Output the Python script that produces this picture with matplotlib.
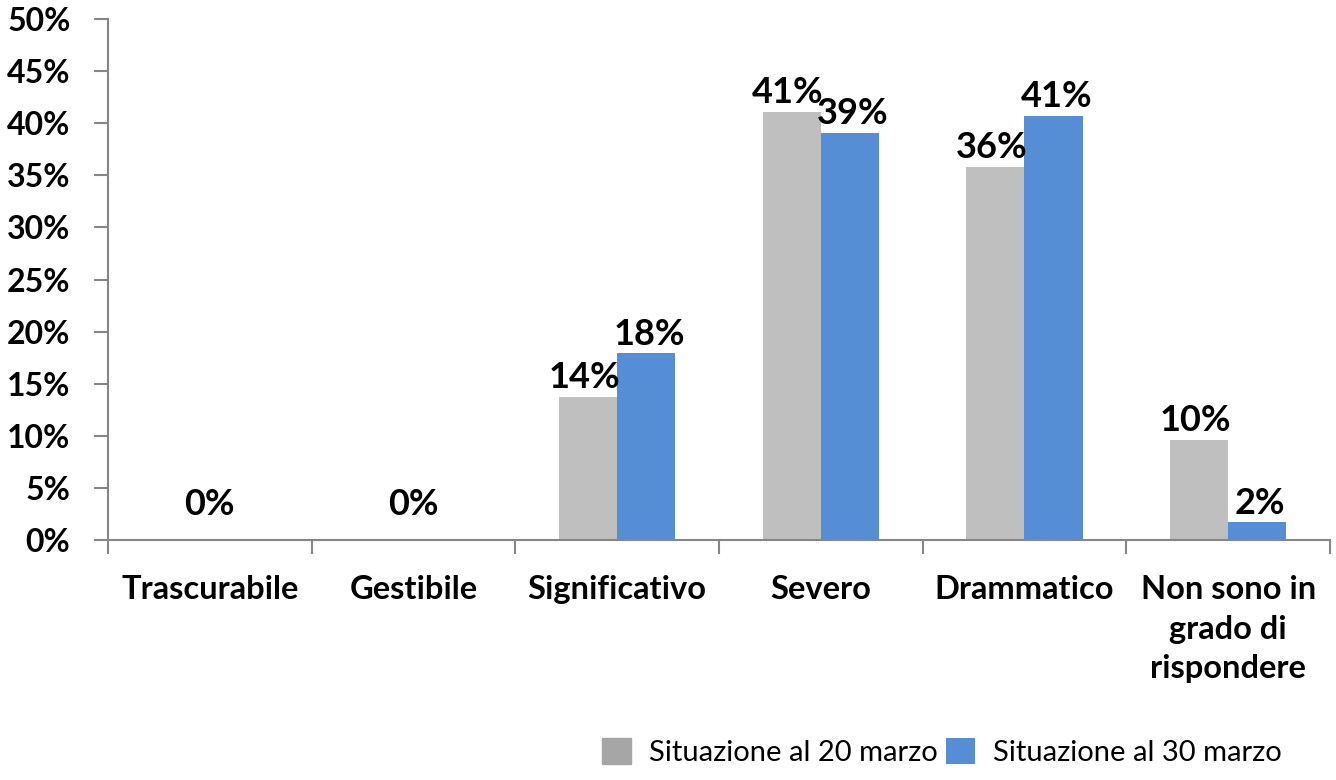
import matplotlib.pyplot as plt
import numpy as np
from matplotlib.ticker import PercentFormatter

# Data
categories = ["Trascurabile", "Gestibile", "Significativo", "Severo",
              "Drammatico", "Non sono in\ngrado di\nrispondere"]
series_names = ["Situazione al 20 marzo", "Situazione al 30 marzo"]
marzo_20 = [0, 0, 13.7, 41.1, 35.8, 9.6]
marzo_30 = [0, 0, 17.9, 39.1, 40.7, 1.7]
label_20 = ["0%", "0%", "14%", "41%", "36%", "10%"]
label_30 = ["0%", "0%", "18%", "39%", "41%", "2%"]

plt.rcParams['font.family'] = ['Lato', 'DejaVu Sans']

fig = plt.figure(figsize=(13.36, 7.8), dpi=100)
ax = fig.add_axes([0.0808, 0.3077, 0.9147, 0.6679])

x = np.arange(len(categories))
w = 0.285
gray = '#BFBFBF'
blue = '#558ED5'
b1 = ax.bar(x - w / 2, marzo_20, w, color=gray, label=series_names[0])
b2 = ax.bar(x + w / 2, marzo_30, w, color=blue, label=series_names[1])

# Data labels
for i in range(len(categories)):
    if marzo_20[i] == 0 and marzo_30[i] == 0:
        ax.annotate(label_20[i], (x[i], 0), xytext=(0, 14), textcoords='offset points',
                    ha='center', va='bottom', fontsize=26, fontweight='bold')
        continue
    ax.annotate(label_20[i], (x[i] - w / 2, marzo_20[i]), xytext=(-3, 2),
                textcoords='offset points', ha='center', va='bottom',
                fontsize=26, fontweight='bold')
    ax.annotate(label_30[i], (x[i] + w / 2, marzo_30[i]), xytext=(2, 2),
                textcoords='offset points', ha='center', va='bottom',
                fontsize=26, fontweight='bold')

ax.set_xlim(-0.5, len(categories) - 0.5)
ax.set_ylim(0, 50)
ax.set_yticks(np.arange(0, 51, 5))
ax.yaxis.set_major_formatter(PercentFormatter(decimals=0))

# Ticks at category boundaries, labels at centers
ax.set_xticks(np.arange(-0.5, len(categories), 1))
ax.set_xticklabels([])
ax.set_xticks(x, minor=True)
ax.set_xticklabels(categories, minor=True, fontsize=23.5, fontweight='bold', linespacing=1.45)
ax.tick_params(axis='x', which='minor', length=0, pad=25)
ax.tick_params(axis='x', which='major', length=10, width=1.5, color='#868686', direction='out')
ax.tick_params(axis='y', length=10, width=1.5, color='#868686', labelsize=23, pad=17)
for lab in ax.get_yticklabels():
    lab.set_fontweight('bold')

for s in ['top', 'right']:
    ax.spines[s].set_visible(False)
for s in ['left', 'bottom']:
    ax.spines[s].set_color('#868686')
    ax.spines[s].set_linewidth(1.5)

leg = fig.legend(handles=[b1, b2], loc='center', bbox_to_anchor=(0.705, 0.036), ncol=2,
                 frameon=False, fontsize=21, handlelength=1.0, handleheight=1.0,
                 handletextpad=0.6, columnspacing=0.3)
leg.legend_handles[0].set_color('#A6A6A6')

fig.savefig('out.png', dpi=100)
